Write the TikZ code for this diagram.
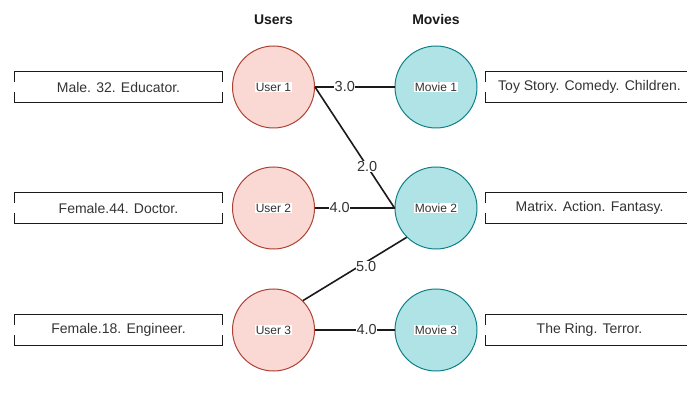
\documentclass[tikz,border=0pt]{standalone}
\usepackage{fontspec}
\setmainfont{Liberation Sans}
\definecolor{userfill}{HTML}{FAD9D5}
\definecolor{userline}{HTML}{AE4132}
\definecolor{moviefill}{HTML}{B0E3E6}
\definecolor{movieline}{HTML}{0E8088}
\definecolor{txt}{HTML}{333333}
\definecolor{ink}{HTML}{1A1A1A}
\begin{document}
\begin{tikzpicture}[x=1pt,y=-1pt,
  user/.style={circle, draw=userline, fill=userfill, line width=1pt,
    minimum size=82pt, inner sep=0pt},
  movie/.style={circle, draw=movieline, fill=moviefill, line width=1pt,
    minimum size=82pt, inner sep=0pt},
  tag/.style={fill=white, inner sep=0.6pt, text=txt,
    font=\fontsize{12}{13}\selectfont},
  heading/.style={font=\bfseries\fontsize{14}{16}\selectfont, text=ink},
  infobox/.style={minimum width=207pt, minimum height=30pt, inner sep=0pt,
    text=txt, font=\fontsize{14}{16}\selectfont},
  boxline/.style={draw=ink, line width=1.1pt},
  edge/.style={draw=ink, line width=1.6pt},
  elabel/.style={fill=white, inner sep=0.4pt, text=txt,
    font=\fontsize{14.5}{16}\selectfont},
]
\useasboundingbox (0,0) rectangle (687,411);

% column headings
\node[heading] (hu) at (273.5,20) {Users};
\node[heading] (hm) at (436,20) {Movies};

% users and movies
\node[user] (u1) at (273.5,87) {};
\node[user] (u2) at (273.5,208) {};
\node[user] (u3) at (273.5,330) {};
\node[movie] (m1) at (436,87) {};
\node[movie] (m2) at (436,208) {};
\node[movie] (m3) at (436,330) {};

% ratings
\draw[edge] (u1.east) -- node[elabel, pos=0.375] {3.0} (m1);
\draw[edge] (u1.east) -- node[elabel, pos=0.655] {2.0} (m2.west);
\draw[edge] (u2) -- node[elabel, pos=0.31] {4.0} (m2);
\draw[edge] (u3.north east) -- node[elabel, pos=0.61, yshift=-4pt] {5.0} (m2.south west);
\draw[edge] (u3) -- node[elabel, pos=0.65] {4.0} (m3);

% circle captions
\foreach \n/\t in {u1/User 1, u2/User 2, u3/User 3,
                   m1/Movie 1, m2/Movie 2, m3/Movie 3}
  \node[tag] (t\n) at (\n) {\t};

% attribute boxes
\node[infobox] (b1) at (118.5,87) {Male. 32. Educator.};
\node[infobox] (b2) at (118.5,208) {Female.44. Doctor.};
\node[infobox] (b3) at (118.5,330) {Female.18. Engineer.};
\node[infobox] (c1) at (589.5,87) {Toy Story. Comedy. Children.};
\node[infobox] (c2) at (589.5,208) {Matrix. Action. Fantasy.};
\node[infobox] (c3) at (589.5,330) {The Ring. Terror.};

\foreach \b in {b1,b2,b3,c1,c2,c3}{
  \draw[boxline] ([yshift=-10pt]\b.north west) -- (\b.north west)
    -- (\b.north east) -- ([yshift=-10pt]\b.north east);
  \draw[boxline] ([yshift=10pt]\b.south west) -- (\b.south west)
    -- (\b.south east) -- ([yshift=10pt]\b.south east);
}
\end{tikzpicture}
\end{document}
